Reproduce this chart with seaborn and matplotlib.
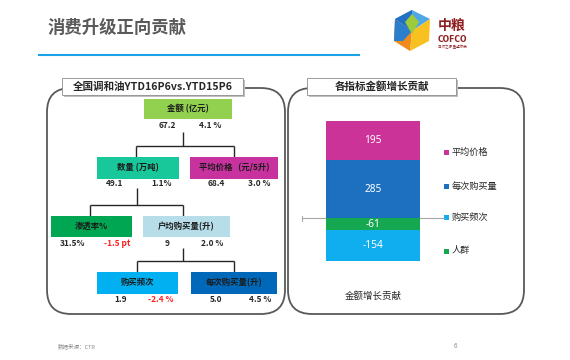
import matplotlib
matplotlib.use("Agg")
import matplotlib.pyplot as plt
import seaborn as sns
import pandas as pd
from matplotlib.patches import FancyBboxPatch, Rectangle, Polygon

sns.set_theme(style="white")
plt.rcParams['font.family'] = ['Noto Sans CJK SC', 'DejaVu Sans']

# ---------------- data ----------------
title = "消费升级正向贡献"
left_title = "全国调和油YTD16P6vs.YTD15P6"
right_title = "各指标金额增长贡献"

node_names = ["金额 (亿元)", "数量 (万吨)", "平均价格   (元/5升)", "渗透率%",
              "户均购买量(升)", "购买频次", "每次购买量(升)"]
node_values = ["67.2", "49.1", "68.4", "31.5%", "9", "1.9", "5.0"]
node_changes = ["4.1 %", "1.1%", "3.0 %", "-1.5 pt", "2.0 %", "-2.4 %", "4.5 %"]
node_colors = ["#92D050", "#19C89A", "#C8329E", "#00A651", "#B7DDE8", "#00B0F0", "#0068B8"]

contrib_category = "金额增长贡献"
contrib_labels = ["平均价格", "每次购买量", "购买频次", "人群"]
contrib_values = [195, 285, -154, -61]
contrib_colors = ["#CC3399", "#1C70BF", "#10AEEE", "#16A850"]

source_text = "数据来源：CTR"
page_no = "6"

# ---------------- figure ----------------
W, H = 570, 360
fig = plt.figure(figsize=(W / 100, H / 100), dpi=100)
bg = fig.add_axes([0, 0, 1, 1], zorder=0)
bg.set_xlim(0, W)
bg.set_ylim(H, 0)
bg.axis("off")

# header
bg.text(48, 28, title, fontsize=12.5, fontweight="bold", color="#595959", va="center", ha="left")
bg.plot([38, 360], [55, 55], color="#1AA3E8", lw=1.5, solid_capstyle="butt")

# logo (approximate)
T, UR, LR, B, LL, UL, C = (412, 10), (430, 19), (429, 41), (410, 51), (394, 41), (395, 19), (412, 31)
faces = [
    ([T, UR, C, UL], "#4FA8E6"),
    ([T, C, UL], "#1F72C4"),
    ([UL, C, B, LL], "#F08A1C"),
    ([UL, C, (403, 41), LL], "#2A7FCC"),
    ([UR, LR, B, C], "#F9C11F"),
    ([(405, 22), (412, 14), (419, 22), (412, 34)], "#9CCB3B"),
]
for pts, c in faces:
    bg.add_patch(Polygon(pts, closed=True, facecolor=c, edgecolor="none", joinstyle="round"))
bg.text(452, 26, "中粮", fontsize=10, fontweight="bold", color="#8E1E20", ha="center", va="center")
bg.text(452, 39, "COFCO", fontsize=5.5, fontweight="bold", color="#8E1E20", ha="center", va="center",
        family=["DejaVu Sans"])
bg.text(452, 47, "自然之源 重塑你我", fontsize=2.5, color="#8E1E20", ha="center", va="center")

# rounded panels
for (x0, x1) in [(47, 285), (288, 524)]:
    bg.add_patch(FancyBboxPatch((x0, 88), x1 - x0, 314 - 88,
                                boxstyle="round,pad=0,rounding_size=24",
                                facecolor="white", edgecolor="#595959", lw=1.3, zorder=1))

# tabs
for (x0, x1, txt) in [(62, 243, left_title), (307, 456, right_title)]:
    bg.add_patch(Rectangle((x0 + 2, 80), x1 - x0, 17, facecolor="#BFBFBF", edgecolor="none", zorder=2))
    bg.add_patch(Rectangle((x0, 78), x1 - x0, 17, facecolor="white", edgecolor="#8C8C8C", lw=0.6, zorder=3))
    bg.text((x0 + x1) / 2, 86.5, txt, fontsize=7.6, fontweight="bold", color="#262626",
            ha="center", va="center", zorder=4)

# tree diagram layout (pixel boxes: x0, x1, y0, y1) and value positions
boxes = [(144, 232, 99, 119), (97, 179, 157, 179), (190, 278, 157, 179),
         (51, 132, 216, 237), (143, 230, 216, 237), (97, 178, 272, 294), (191, 277, 272, 294)]
val_pos = [(167, 210, 126), (115, 162, 184), (216, 259, 184),
           (73, 117, 243), (167, 212, 243), (121, 161, 299), (216, 260, 299)]
for i, (x0, x1, y0, y1) in enumerate(boxes):
    bg.add_patch(Rectangle((x0, y0), x1 - x0, y1 - y0, facecolor=node_colors[i],
                           edgecolor="none", zorder=3))
    bg.text((x0 + x1) / 2, (y0 + y1) / 2, node_names[i], fontsize=6, fontweight="bold",
            color="#1A1A1A", ha="center", va="center", zorder=4)
    vx, cxp, vy = val_pos[i]
    bg.text(vx, vy, node_values[i], fontsize=6, fontweight="bold", color="#262626",
            ha="center", va="center", zorder=4)
    chg = node_changes[i]
    bg.text(cxp, vy, chg, fontsize=6, fontweight="bold",
            color="#FF2020" if chg.startswith("-") else "#262626",
            ha="center", va="center", zorder=4)

lc = "#262626"
connectors = [
    [(183, 132), (183, 146)], [(136, 146), (234, 146)], [(136, 146), (136, 157)], [(234, 146), (234, 157)],
    [(137, 188), (137, 205)], [(90, 205), (183, 205)], [(90, 205), (90, 216)], [(183, 205), (183, 216)],
    [(183, 248), (183, 261)], [(137, 261), (234, 261)], [(137, 261), (137, 272)], [(234, 261), (234, 272)],
]
for seg in connectors:
    (xa, ya), (xb, yb) = seg
    bg.plot([xa, xb], [ya, yb], color=lc, lw=1.0, zorder=2, solid_capstyle="butt")

# footer
bg.text(58, 346, source_text, fontsize=4, color="#8C8C8C", ha="left", va="center")
bg.text(455, 346, page_no, fontsize=4.5, color="#8C8C8C", ha="center", va="center")

# ---------------- stacked bar (seaborn) ----------------
ax_l, ax_r, ax_t, ax_b = 302, 445, 100, 280
ax = fig.add_axes([ax_l / W, 1 - ax_b / H, (ax_r - ax_l) / W, (ax_b - ax_t) / H], zorder=2)
ax.patch.set_alpha(0)

# stacking order: positive from zero: 每次购买量, 平均价格 ; negative: 人群, 购买频次
stack_order = [1, 0, 3, 2]
pos_base, neg_base = 0, 0
segments = []
for idx in stack_order:
    v = contrib_values[idx]
    if v >= 0:
        b = pos_base
        pos_base += v
    else:
        b = neg_base
        neg_base += v
    segments.append((idx, b, b + v))

# draw largest cumulative first so smaller ones overlay
for idx, b, e in sorted(segments, key=lambda s: -abs(s[2])):
    df = pd.DataFrame({"cat": [contrib_category], "val": [e]})
    sns.barplot(data=df, x="cat", y="val", color=contrib_colors[idx], width=0.8,
                saturation=1, ax=ax, edgecolor="none")
for idx, b, e in segments:
    ax.text(0, (b + e) / 2, f"{contrib_values[idx]}", color="white", fontsize=7.3,
            ha="center", va="center", family=["Noto Sans", "DejaVu Sans"])

ax.axhline(0, color="#A6A6A6", lw=0.8, zorder=0.5)
ax.set_xlim(-0.604, 0.613)
ax.set_ylim(-307, 584)
ax.set_yticks([])
ax.set_ylabel("")
ax.set_xlabel("")
ax.tick_params(axis="x", length=0, pad=8, labelsize=6.8, labelcolor="#262626")
for s in ax.spines.values():
    s.set_visible(False)
bg.plot([302, 302], [216, 221], color="#A6A6A6", lw=0.8)

# legend
leg_y = [152, 186, 217, 251]
for lab, c, y in zip(contrib_labels, contrib_colors, leg_y):
    bg.add_patch(Rectangle((444, y - 2.5), 5, 5, facecolor=c, edgecolor="none", zorder=3))
    bg.text(452, y, lab, fontsize=6.6, color="#262626", ha="left", va="center", zorder=3)

fig.savefig("out.png", dpi=100)
